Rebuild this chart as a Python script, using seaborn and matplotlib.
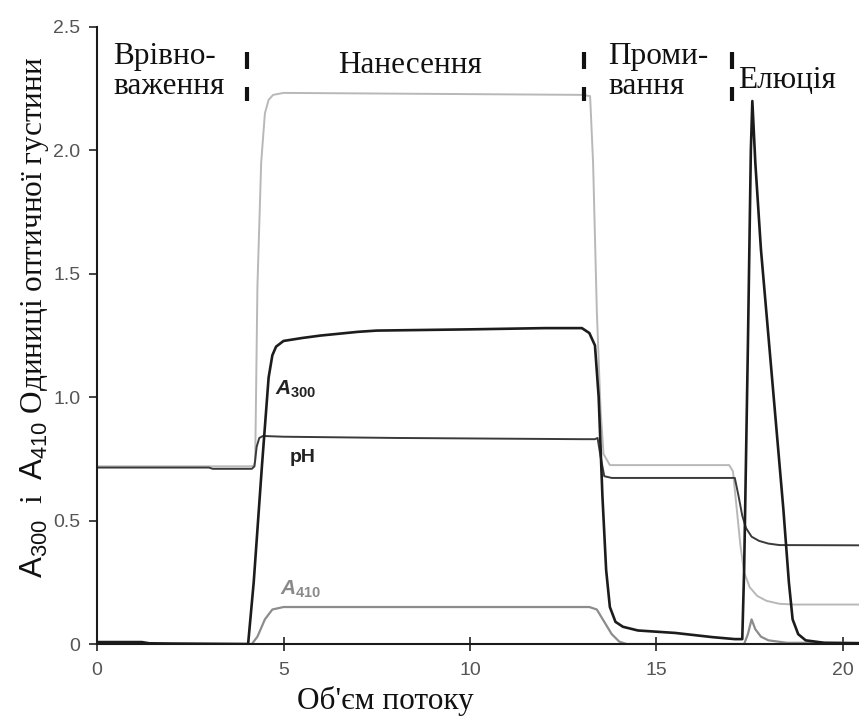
import numpy as np
import pandas as pd
import matplotlib
matplotlib.use("Agg")
import matplotlib.pyplot as plt
import seaborn as sns

# ---- data ----
cond_x = [0, 4.1, 4.2, 4.24, 4.3, 4.4, 4.5, 4.6, 4.72, 5.0, 8.0, 13.0, 13.22, 13.3, 13.4, 13.5, 13.58, 13.75,
          16.95, 17.05, 17.15, 17.25, 17.35, 17.5, 17.7, 17.95, 18.3, 18.7, 20.45]
cond_y = [0.72, 0.72, 0.722, 0.74, 1.45, 1.95, 2.15, 2.205, 2.225, 2.233, 2.23, 2.225, 2.22, 1.95, 1.35, 0.95, 0.77, 0.725,
          0.725, 0.70, 0.55, 0.40, 0.29, 0.23, 0.195, 0.175, 0.163, 0.16, 0.16]

ph_x = [0, 3.0, 3.1, 4.15, 4.22, 4.28, 4.35, 4.45, 5.0, 8.0, 13.0, 13.35, 13.42, 13.5, 13.6, 13.8,
        17.1, 17.2, 17.3, 17.4, 17.55, 17.75, 18.0, 18.3, 20.45]
ph_y = [0.715, 0.715, 0.71, 0.71, 0.72, 0.80, 0.835, 0.843, 0.84, 0.835, 0.83, 0.83, 0.835, 0.76, 0.68, 0.673,
        0.673, 0.60, 0.52, 0.47, 0.435, 0.418, 0.407, 0.401, 0.40]

a300_x = [0, 0.5, 1.2, 1.4, 2.0, 4.05, 4.2, 4.42, 4.6, 4.7, 4.8, 5.0, 5.5, 6.0, 7.0, 7.5, 10.0, 12.0, 13.0, 13.2,
          13.35, 13.45, 13.55, 13.65, 13.75, 13.9, 14.1, 14.5, 15.5, 16.5, 17.1, 17.3, 17.35, 17.45, 17.53, 17.57,
          17.65, 17.8, 18.0, 18.2, 18.4, 18.55, 18.65, 18.8, 19.0, 19.5, 20.45]
a300_y = [0.008, 0.008, 0.008, 0.003, 0.002, 0.0, 0.25, 0.72, 1.08, 1.17, 1.205, 1.228, 1.24, 1.25, 1.265, 1.27, 1.275,
          1.28, 1.28, 1.26, 1.21, 1.0, 0.6, 0.3, 0.15, 0.09, 0.07, 0.055, 0.045, 0.028, 0.02, 0.02, 0.3, 1.2, 2.0,
          2.2, 1.95, 1.6, 1.25, 0.9, 0.55, 0.25, 0.1, 0.04, 0.015, 0.005, 0.003]

a410_x = [0, 4.15, 4.3, 4.5, 4.7, 5.0, 13.2, 13.4, 13.6, 13.8, 14.0, 14.2, 17.35, 17.45, 17.55, 17.65, 17.8, 18.0,
          18.5, 20.45]
a410_y = [0.0, 0.0, 0.03, 0.10, 0.14, 0.15, 0.15, 0.14, 0.09, 0.04, 0.01, 0.0, 0.0, 0.04, 0.10, 0.06, 0.03, 0.015,
          0.005, 0.005]

phase_bounds = [4.02, 13.06, 17.02]
x_ticks = [0, 5, 10, 15, 20]
x_ticklabels = ["0", "5", "10", "15", "20"]
y_ticks = [0, 0.5, 1.0, 1.5, 2.0, 2.5]
y_ticklabels = ["0", "0.5", "1.0", "1.5", "2.0", "2.5"]

# ---- style ----
sns.set_theme(style="white")
plt.rcParams["font.family"] = ["Liberation Serif", "DejaVu Serif"]
plt.rcParams["mathtext.fontset"] = "custom"
plt.rcParams["mathtext.it"] = "Liberation Sans:bold:italic"
plt.rcParams["mathtext.rm"] = "Liberation Sans:bold"
plt.rcParams["mathtext.sf"] = "Liberation Sans"

fig = plt.figure(figsize=(8.59, 7.18), dpi=100)
ax = fig.add_axes([0.113, 0.103, 0.887, 0.8594])

series = [
    ("cond", cond_x, cond_y, "#b8b8b8", 1.4),
    ("A410", a410_x, a410_y, "#8c8c8c", 1.6),
    ("pH", ph_x, ph_y, "#3a3a3a", 1.4),
    ("A300", a300_x, a300_y, "#1c1c1c", 1.9),
]
for name, xs, ys, col, lw in series:
    df = pd.DataFrame({"x": xs, "y": ys})
    sns.lineplot(data=df, x="x", y="y", ax=ax, color=col, lw=lw, estimator=None, sort=False)

ax.set_xlim(0, 20.43)
ax.set_ylim(0, 2.5)
ax.set_xticks(x_ticks)
ax.set_xticklabels(x_ticklabels)
ax.set_yticks(y_ticks)
ax.set_yticklabels(y_ticklabels)
for lab in ax.get_xticklabels() + ax.get_yticklabels():
    lab.set_fontfamily("Liberation Sans")
    lab.set_fontsize(14)
    lab.set_color("#555555")
ax.tick_params(axis="x", direction="inout", length=10, width=1.2, color="#222222", pad=8)
ax.tick_params(axis="y", direction="out", length=6, width=1.2, color="#222222", pad=6)
ax.tick_params(left=True, bottom=True)

for s in ["top", "right"]:
    ax.spines[s].set_visible(False)
for s in ["left", "bottom"]:
    ax.spines[s].set_color("#1a1a1a")
    ax.spines[s].set_linewidth(1.5)

ax.set_xlabel("Об'єм потоку", fontsize=22.5, color="#111111")
ax.xaxis.set_label_coords(0.378, -0.068)
ax.set_ylabel(r"$\mathsf{A_{300}}$  і  $\mathsf{A_{410}}$ Одиниці оптичної густини", fontsize=22.5, color="#111111")
ax.yaxis.set_label_coords(-0.082, 0.53)
ax.yaxis.label.set_verticalalignment("center")

# phase dividers
for b in phase_bounds:
    ax.vlines(b, 2.33, 2.40, color="#111111", lw=3)
    ax.vlines(b, 2.20, 2.257, color="#111111", lw=3)

# phase labels
ax.text(0.43, 2.44, "Врівно-\nваження", fontsize=22.5, va="top", ha="left", linespacing=1.05, color="#111111")
ax.text(8.39, 2.346, "Нанесення", fontsize=22.5, va="center", ha="center", color="#111111")
ax.text(13.7, 2.44, "Проми-\nвання", fontsize=22.5, va="top", ha="left", linespacing=1.05, color="#111111")
ax.text(17.18, 2.285, "Елюція", fontsize=22.5, va="center", ha="left", color="#111111")

# curve labels
ax.text(4.77, 1.03, r"$A_{300}$", fontsize=15, va="center", ha="left", color="#222222")
ax.text(5.17, 0.754, "pH", fontsize=14, fontweight="bold", family="Liberation Sans", va="center", ha="left", color="#222222")
ax.text(4.9, 0.22, r"$A_{410}$", fontsize=15, va="center", ha="left", color="#8a8a8a")

fig.savefig("out.png", dpi=100)
